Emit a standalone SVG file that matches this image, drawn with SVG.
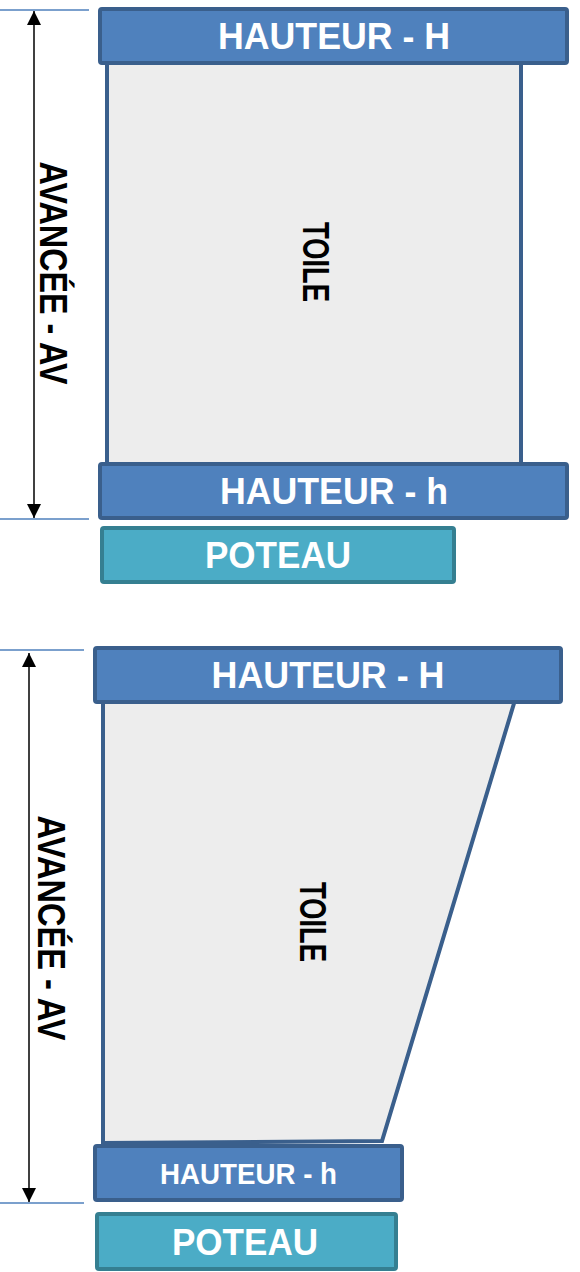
<svg xmlns="http://www.w3.org/2000/svg" width="580" height="1272" viewBox="0 0 580 1272">
<style>
.bar{fill:#4F81BD;stroke:#3A5F8C;stroke-width:4}
.post{fill:#4BACC6;stroke:#357F91;stroke-width:4}
.toile{fill:#EDEDED;stroke:#3A5F8C;stroke-width:4}
.dim{stroke:#4F81BD;stroke-width:1.3}
.arr{stroke:#000;stroke-width:1.5;fill:none}
.wt{font-family:"Liberation Sans",Arial,sans-serif;font-weight:bold;fill:#fff;text-anchor:middle}
.bt{font-family:"Liberation Sans",Arial,sans-serif;font-weight:bold;fill:#000;text-anchor:middle}
</style>
<defs>
<marker id="ah" viewBox="0 0 14 14" refX="14" refY="7" markerWidth="14" markerHeight="14" markerUnits="userSpaceOnUse" orient="auto-start-reverse">
<path d="M0,0 L14,7 L0,14 z" fill="#000"/>
</marker>
</defs>
<g id="connectors">
<line class="dim" x1="0" y1="10" x2="89" y2="10"/>
<line class="dim" x1="0" y1="519" x2="89" y2="519"/>
<line class="arr" x1="34" y1="11" x2="34" y2="518" marker-start="url(#ah)" marker-end="url(#ah)"/>
<line class="dim" x1="0" y1="650" x2="84" y2="650"/>
<line class="dim" x1="0" y1="1203" x2="84" y2="1203"/>
<line class="arr" x1="29" y1="653" x2="29" y2="1202" marker-start="url(#ah)" marker-end="url(#ah)"/>
</g>
<g id="toile1">
<rect class="toile" x="107" y="60" width="414" height="406"/>
<text class="bt" font-size="37" transform="translate(303,262) rotate(90)" textLength="80" lengthAdjust="spacingAndGlyphs">TOILE</text>
</g>
<g id="hauteurH1">
<rect class="bar" x="100" y="9" width="467" height="54" rx="2"/>
<text class="wt" x="334" y="49" font-size="37" textLength="232" lengthAdjust="spacingAndGlyphs">HAUTEUR - H</text>
</g>
<g id="hauteurh1">
<rect class="bar" x="100" y="464" width="467" height="54" rx="2"/>
<text class="wt" x="334" y="504" font-size="37" textLength="228" lengthAdjust="spacingAndGlyphs">HAUTEUR - h</text>
</g>
<g id="poteau1">
<rect class="post" x="102" y="528" width="352" height="54" rx="2"/>
<text class="wt" x="278" y="568" font-size="37" textLength="146" lengthAdjust="spacingAndGlyphs">POTEAU</text>
</g>
<g id="avancee1">
<text class="bt" font-size="38" transform="translate(40,273) rotate(90)" textLength="223" lengthAdjust="spacingAndGlyphs">AVANCÉE - AV</text>
</g>
<g id="toile2">
<path class="toile" d="M103,700 L515,700 L382,1141 L103,1143 Z"/>
<text class="bt" font-size="37" transform="translate(300,922) rotate(90)" textLength="80" lengthAdjust="spacingAndGlyphs">TOILE</text>
</g>
<g id="hauteurH2">
<rect class="bar" x="95" y="648" width="466" height="54" rx="2"/>
<text class="wt" x="328" y="688" font-size="37" textLength="233" lengthAdjust="spacingAndGlyphs">HAUTEUR - H</text>
</g>
<g id="hauteurh2">
<rect class="bar" x="95" y="1146" width="307" height="54" rx="2"/>
<text class="wt" x="248.5" y="1184" font-size="29" textLength="177" lengthAdjust="spacingAndGlyphs">HAUTEUR - h</text>
</g>
<g id="poteau2">
<rect class="post" x="97" y="1214" width="299" height="55" rx="2"/>
<text class="wt" x="245" y="1255" font-size="37" textLength="146" lengthAdjust="spacingAndGlyphs">POTEAU</text>
</g>
<g id="avancee2">
<text class="bt" font-size="38" transform="translate(38,928) rotate(90)" textLength="225" lengthAdjust="spacingAndGlyphs">AVANCÉE - AV</text>
</g>
</svg>
